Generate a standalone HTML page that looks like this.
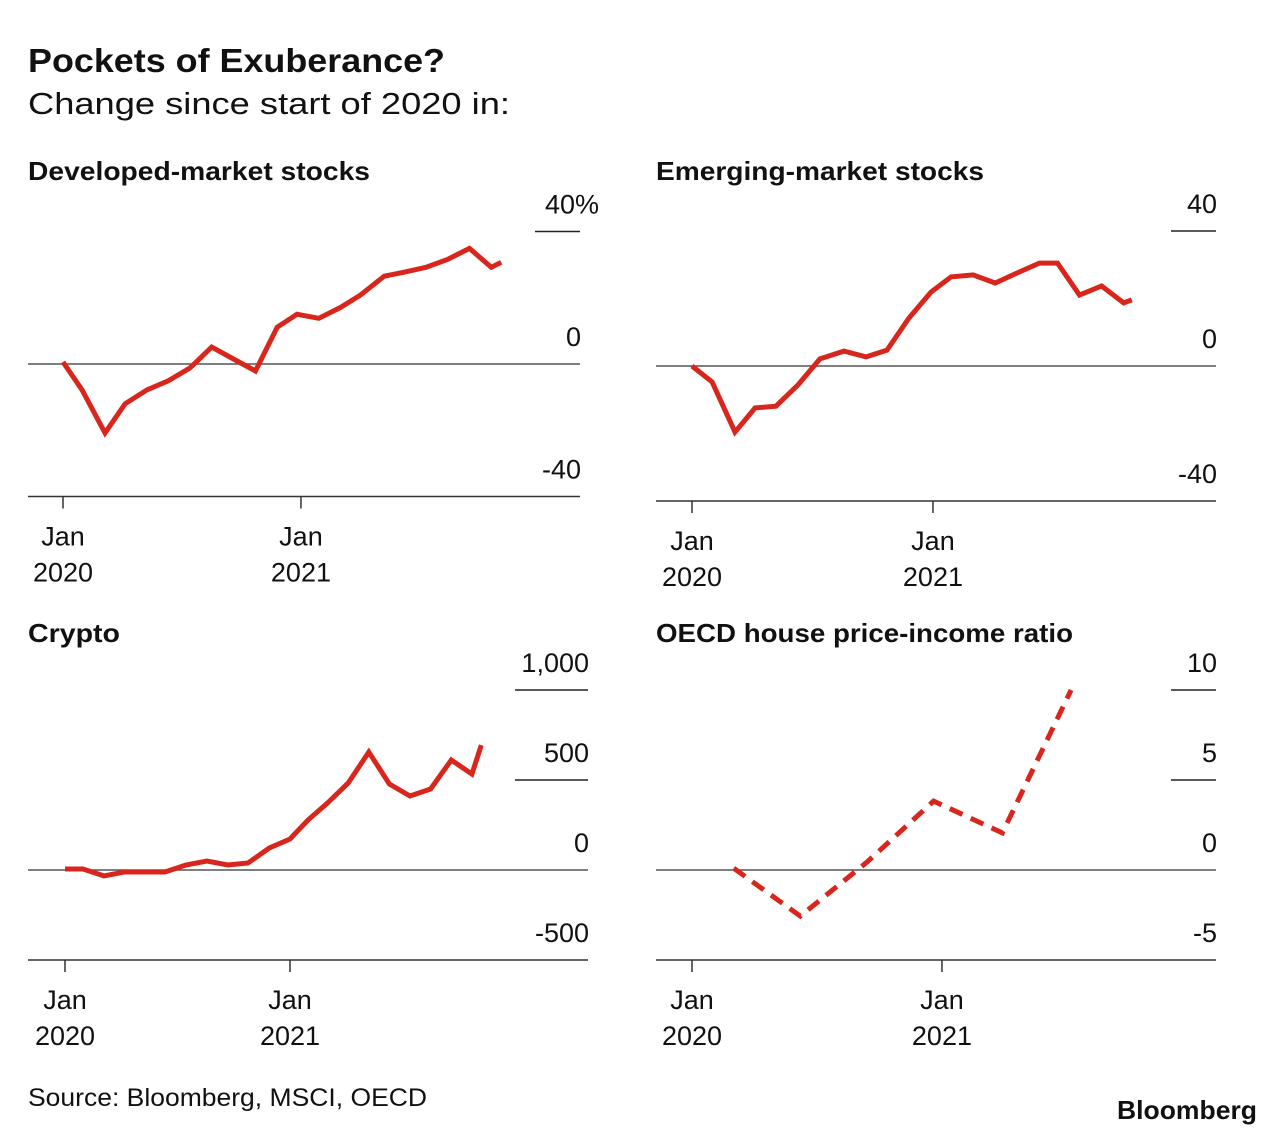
<!DOCTYPE html>
<html><head><meta charset="utf-8">
<style>
html,body{margin:0;padding:0;background:#fff;}
body{width:1284px;height:1136px;overflow:hidden;font-family:"Liberation Sans",sans-serif;}
svg text{font-family:"Liberation Sans",sans-serif;fill:#111;}
</style></head>
<body>
<svg id="chart" width="1284" height="1136" viewBox="0 0 1284 1136">
<text x="28" y="72" font-size="33" font-weight="bold" textLength="417" lengthAdjust="spacingAndGlyphs">Pockets of Exuberance?</text>
<text x="28" y="114" font-size="31" textLength="482" lengthAdjust="spacingAndGlyphs">Change since start of 2020 in:</text>
<text x="28" y="1106" font-size="25" textLength="399" lengthAdjust="spacingAndGlyphs">Source: Bloomberg, MSCI, OECD</text>
<text x="1117" y="1119" font-size="26" font-weight="bold" textLength="140" lengthAdjust="spacingAndGlyphs">Bloomberg</text>
</svg>
<script>
// Developed-market stocks (months since Jan 2020, % change)
const dmMonths=[0,0.96,2.12,3.13,4.24,5.3,6.4,7.5,8.6,9.7,10.8,11.8,12.9,14,15,16.2,17.2,18.3,19.4,20.5,21.6,22.1];
const dmValues=[0.6,-7.8,-20.8,-12,-7.8,-5.1,-1.2,5.1,1.5,-2.1,11.1,15,13.8,17.1,20.8,26.5,27.7,29.2,31.6,34.9,29.2,30.7];
// Emerging-market stocks
const emMonths=[0,1,2.14,3.14,4.18,5.28,6.37,7.57,8.67,9.71,10.8,11.9,12.9,14,15.1,16.2,17.3,18.2,19.3,20.4,21.5,21.9];
const emValues=[0,-4.7,-19.6,-12.4,-11.9,-5.6,2.1,4.4,2.7,4.7,14.2,21.9,26.4,27,24.6,27.6,30.5,30.5,21,23.7,18.7,19.6];
// Crypto
const crMonths=[0,0.96,2.08,3.15,4.27,5.33,6.45,7.57,8.69,9.76,10.9,12,12.96,14,15.1,16.2,17.3,18.4,19.5,20.6,21.7,22.2];
const crValues=[5.6,5.6,-33,-11,-11,-11,28,50,28,39,122,172,278,372,483,655,478,411,450,611,533,694];
// OECD house price-income ratio
const hpMonths=[2,5.2,8.4,11.6,14.9,18.2];
const hpValues=[0.1,-2.56,0.44,3.83,2.06,10];
// Tick labels
const dmTicks=[40,0,-40];
const dmTickLabels=["40%","0","-40"];
const emTicks=[40,0,-40];
const emTickLabels=["40","0","-40"];
const crTicks=[1000,500,0,-500];
const crTickLabels=["1,000","500","0","-500"];
const hpTicks=[10,5,0,-5];
const hpTickLabels=["10","5","0","-5"];
const xTickMonths=[0,12];
const xTickLabels=[["Jan","2020"],["Jan","2021"]];

const svg=document.getElementById('chart');
const NS='http://www.w3.org/2000/svg';
function mk(tag,attrs,parent){const e=document.createElementNS(NS,tag);for(const k in attrs)e.setAttribute(k,attrs[k]);(parent||svg).appendChild(e);return e;}

function panel(cfg){
  const g=mk('g',{});
  
  
  const xs=m=>cfg.x0+m*cfg.mpx;
  const ys=v=>cfg.yZero-(v/cfg.unit)*cfg.upx;
  const t=mk('text',{x:cfg.left,y:cfg.titleY,'font-size':26,'font-weight':'bold',textLength:cfg.titleLen,lengthAdjust:'spacingAndGlyphs'},g);
  t.textContent=cfg.title;
  
  
  const yMin=Math.min(...cfg.ticks);
  cfg.ticks.forEach((tv,i)=>{
    const y=ys(tv);
    let ln;
    if(tv===0){ln=mk('line',{x1:cfg.left,x2:cfg.right,y1:y,y2:y,stroke:'#555','stroke-width':1.5},g);}
    else if(tv===yMin){ln=mk('line',{x1:cfg.left,x2:cfg.right,y1:y,y2:y,stroke:'#333','stroke-width':1.5},g);}
    else{ln=mk('line',{x1:cfg.right-cfg.shortLen,x2:cfg.right,y1:y,y2:y,stroke:'#222','stroke-width':1.5},g);}
    
    
    const lb=mk('text',{x:cfg.right+1,y:y-18,'font-size':27,'text-anchor':'end'},g);
    lb.textContent=cfg.tickLabels[i];
    if(cfg.tickLabels[i].endsWith('%')){lb.setAttribute('text-anchor','start');lb.setAttribute('x',cfg.right-35);}
    
    
  });
  const axisY=ys(yMin);
  xTickMonths.forEach((m,i)=>{
    const x=xs(m);
    const tk=mk('line',{x1:x,x2:x,y1:axisY,y2:axisY+12,stroke:'#333','stroke-width':1.5},g);
    
    
    xTickLabels[i].forEach((s,j)=>{
      const lb=mk('text',{x:x,y:axisY+49+j*36,'font-size':27,'text-anchor':'middle'},g);
      lb.textContent=s;
      
      
    });
  });
  const d=cfg.months.map((m,i)=>(i?'L':'M')+xs(m).toFixed(1)+','+ys(cfg.values[i]).toFixed(1)).join('');
  const p=mk('path',{d:d,fill:'none',stroke:'#d9261c','stroke-width':5,'stroke-linejoin':'miter','stroke-linecap':'butt'},g);
  if(cfg.dashed)p.setAttribute('stroke-dasharray','14,9');
  
  
}
panel({name:'developed-market',title:'Developed-market stocks',titleLen:342,shortLen:45,left:28,right:580,titleY:180,x0:63,mpx:19.83,yZero:364,unit:40,upx:132.5,months:dmMonths,values:dmValues,ticks:dmTicks,tickLabels:dmTickLabels});
panel({name:'emerging-market',title:'Emerging-market stocks',titleLen:328,shortLen:45,left:656,right:1216,titleY:180,x0:692,mpx:20.08,yZero:366,unit:40,upx:135,months:emMonths,values:emValues,ticks:emTicks,tickLabels:emTickLabels});
panel({name:'crypto',title:'Crypto',titleLen:92,shortLen:73,left:28,right:588,titleY:642,x0:65,mpx:18.75,yZero:870,unit:500,upx:90,months:crMonths,values:crValues,ticks:crTicks,tickLabels:crTickLabels});
panel({name:'oecd-house-price',title:'OECD house price-income ratio',titleLen:417,shortLen:45,left:656,right:1216,titleY:642,x0:692,mpx:20.83,yZero:870,unit:5,upx:90,months:hpMonths,values:hpValues,ticks:hpTicks,tickLabels:hpTickLabels,dashed:true});
</script>
</body></html>
